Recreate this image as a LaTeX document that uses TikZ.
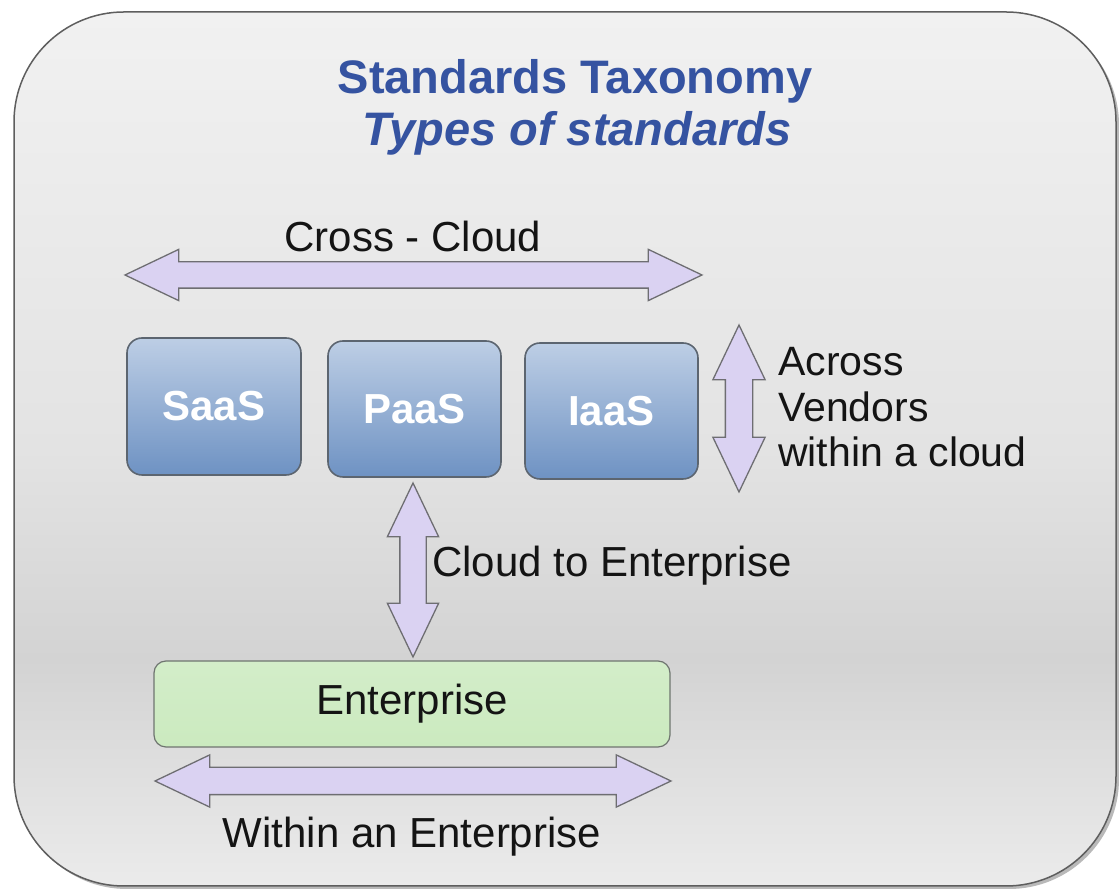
\documentclass[tikz,border=0pt]{standalone}
\usepackage{fontspec}
\setmainfont{Liberation Sans}
\usetikzlibrary{shapes.arrows}
\definecolor{frtop}{HTML}{F1F1F1}
\definecolor{frmid}{HTML}{E3E3E3}
\definecolor{frdark}{HTML}{D3D3D3}
\definecolor{frbot}{HTML}{EBEBEB}
\definecolor{frline}{HTML}{5E5E5E}
\definecolor{titleblue}{HTML}{3553A1}
\definecolor{arrowfill}{HTML}{DAD2F2}
\definecolor{arrowline}{HTML}{6E6E72}
\definecolor{boxtop}{HTML}{BDCEE5}
\definecolor{boxbot}{HTML}{6E92C3}
\definecolor{boxline}{HTML}{5C6570}
\definecolor{enttop}{HTML}{D3EDC9}
\definecolor{entmid}{HTML}{B6DFA4}
\definecolor{entbot}{HTML}{CBEABF}
\definecolor{entline}{HTML}{6F7570}
\definecolor{txt}{HTML}{141414}
\pgfdeclareverticalshading{framesh}{100bp}{color(0bp)=(frbot); color(25bp)=(frbot); color(38bp)=(frdark); color(50bp)=(frmid); color(75bp)=(frtop); color(100bp)=(frtop)}
\begin{document}
\begin{tikzpicture}[x=1pt,y=1pt,
  dblarr/.style={double arrow, draw=arrowline, fill=arrowfill, line width=1.3pt,
    inner xsep=0pt, inner ysep=12.5pt, minimum width=50pt, double arrow head extend=12.5pt,
    double arrow tip angle=51},
  cloudbox/.style={rounded corners=15pt, draw=boxline, line width=1.6pt,
    top color=boxtop, bottom color=boxbot, minimum width=173pt, minimum height=136pt,
    inner sep=0pt, text=white, font=\fontsize{42}{44}\selectfont\bfseries},
  entbox/.style={rounded corners=12pt, draw=entline, line width=1.2pt,
    top color=enttop, middle color=entmid, bottom color=entbot,
    minimum width=516pt, minimum height=86pt, inner sep=0pt, text=txt,
    font=\fontsize{42}{44}\selectfont},
  lbl/.style={inner sep=0pt, text=txt, font=\fontsize{42}{45.5}\selectfont},
  ttl/.style={inner sep=0pt, text=titleblue, font=\fontsize{47}{50}\selectfont\bfseries}]
\useasboundingbox (0,0) rectangle (1119,890);
\fill[white] (0,0) rectangle (1119,890);
% frame with shadow
\fill[gray!55, rounded corners=110pt] (17,1) rectangle (1119,875);
\path[shading=framesh, draw=frline, line width=1.5pt, rounded corners=110pt]
  (14,4) rectangle (1116,878);
% title
\node[ttl, anchor=base] (t1) at (575,796) {Standards Taxonomy};
\node[ttl, anchor=base] (t2) at (577,744) {\itshape Types of standards};
% cross-cloud
\node[lbl, anchor=base] (cc) at (413,638) {Cross - Cloud};
\node[dblarr, minimum height=577pt] (ccarrow) at (413.5,615) {};
% cloud boxes
\node[cloudbox, minimum width=174pt, minimum height=137pt] (saas) at (214,483.5) {SaaS};
\node[cloudbox] (paas) at (414.5,481) {PaaS};
\node[cloudbox] (iaas) at (611.5,479) {IaaS};
% across vendors
\node[dblarr, minimum height=167pt, inner ysep=13pt, rotate=90] (avarrow) at (739,481.5) {};
\node[lbl, anchor=north west, align=left, font=\fontsize{41}{45.5}\selectfont] (av) at (778,542.5) {Across\\Vendors\\within a cloud};
% cloud to enterprise
\node[dblarr, minimum height=174pt, minimum width=49pt, rotate=90] (cearrow) at (413,320) {};
\node[lbl, anchor=base west] (ce) at (432,313) {Cloud to Enterprise};
% enterprise
\node[entbox] (ent) at (412,186) {Enterprise};
\node[dblarr, minimum height=516pt, minimum width=49pt, inner ysep=13pt] (wearrow) at (413,109) {};
\node[lbl, anchor=base] (we) at (412,42) {Within an Enterprise};
\end{tikzpicture}
\end{document}
